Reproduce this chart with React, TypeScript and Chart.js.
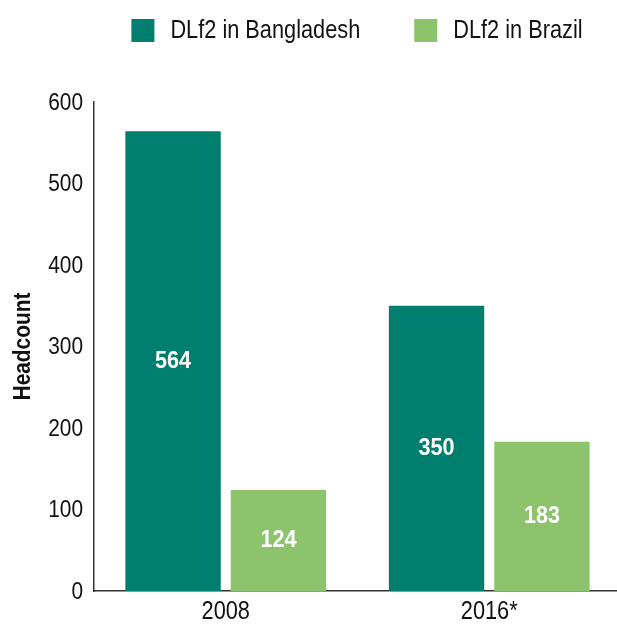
import React, { useEffect, useRef } from "react";
import { Chart, registerables } from "chart.js";

Chart.register(...registerables);

const categories = ["2008", "2016*"];
const bangladesh = [564, 350];
const brazil = [124, 183];
const seriesNames = ["DLf2 in Bangladesh", "DLf2 in Brazil"];
const seriesColors = ["#007F6E", "#8DC36C"];
const yTicks = [0, 100, 200, 300, 400, 500, 600];
const yTitle = "Headcount";

const FONT = "'Liberation Sans', Arial, sans-serif";
const SX = 0.87; // horizontal condensing to mimic a condensed face
const TEXT = "#111111";

function drawText(ctx: CanvasRenderingContext2D, text: string, x: number, y: number, font: string, align: "left" | "center" | "right", color: string, sx = SX) {
  ctx.save();
  ctx.font = font;
  ctx.textBaseline = "middle";
  ctx.textAlign = "left";
  ctx.fillStyle = color;
  const w = ctx.measureText(text).width * sx;
  const x0 = align === "center" ? x - w / 2 : align === "right" ? x - w : x;
  ctx.translate(x0, y);
  ctx.scale(sx, 1);
  ctx.fillText(text, 0, 0);
  ctx.restore();
}

function textWidth(ctx: CanvasRenderingContext2D, text: string, font: string, sx = SX) {
  ctx.save();
  ctx.font = font;
  const w = ctx.measureText(text).width * sx;
  ctx.restore();
  return w;
}

const textPlugin = {
  id: "condensedText",
  afterDraw(chart: any) {
    const ctx: CanvasRenderingContext2D = chart.ctx;
    const area = chart.chartArea;
    const yScale = chart.scales.y;
    const xScale = chart.scales.x;

    // y tick labels
    const yFont = `24px ${FONT}`;
    yTicks.forEach((v) => {
      drawText(ctx, String(v), 83, yScale.getPixelForValue(v) + 1, yFont, "right", TEXT);
    });

    // x tick labels
    const xFont = `25px ${FONT}`;
    categories.forEach((c, i) => {
      drawText(ctx, c, xScale.getPixelForValue(i), 612, xFont, "center", TEXT);
    });

    // y title
    ctx.save();
    const tFont = `bold 24px ${FONT}`;
    ctx.translate(23, (area.top + area.bottom) / 2);
    ctx.rotate(-Math.PI / 2);
    drawText(ctx, yTitle, 0, 0, tFont, "center", TEXT);
    ctx.restore();

    // bar value labels
    const lFont = `bold 24px ${FONT}`;
    chart.data.datasets.forEach((ds: any, i: number) => {
      const meta = chart.getDatasetMeta(i);
      meta.data.forEach((bar: any, j: number) => {
        drawText(ctx, String(ds.data[j]), bar.x, (bar.y + bar.base) / 2, lFont, "center", "#ffffff", 0.9);
      });
    });

    // legend
    const legFont = `25px ${FONT}`;
    const box = 23;
    const gapText = 16;
    const gapItem = 54;
    const widths = seriesNames.map((n) => box + gapText + textWidth(ctx, n, legFont));
    const total = widths.reduce((a, b) => a + b, 0) + gapItem * (seriesNames.length - 1);
    let x = 357 - total / 2;
    const boxTop = 19;
    seriesNames.forEach((n, i) => {
      ctx.save();
      ctx.fillStyle = seriesColors[i];
      ctx.fillRect(x, boxTop, box, box);
      ctx.restore();
      drawText(ctx, n, x + box + gapText, boxTop + box / 2 + 1, legFont, "left", TEXT);
      x += widths[i] + gapItem;
    });
  },
};

export default function App() {
  const ref = useRef<HTMLCanvasElement>(null);
  useEffect(() => {
    document.body.style.margin = "0";
    const chart = new Chart(ref.current!, {
      type: "bar",
      data: {
        labels: categories,
        datasets: [
          { label: seriesNames[0], data: bangladesh, backgroundColor: seriesColors[0], barPercentage: 0.905, categoryPercentage: 0.8 },
          { label: seriesNames[1], data: brazil, backgroundColor: seriesColors[1], barPercentage: 0.905, categoryPercentage: 0.8 },
        ],
      },
      options: {
        animation: false,
        responsive: true,
        maintainAspectRatio: false,
        layout: { padding: { top: 102, right: 0, left: 0, bottom: 0 } },
        plugins: {
          tooltip: { enabled: false },
          legend: { display: false },
        },
        scales: {
          x: {
            grid: { display: false, drawTicks: false },
            border: { display: true, color: "#333", width: 1.5 },
            ticks: { display: false },
            afterFit: (axis: any) => {
              axis.height = 33;
            },
          },
          y: {
            min: 0,
            max: 600,
            afterBuildTicks: (axis: any) => {
              axis.ticks = yTicks.map((v) => ({ value: v }));
            },
            grid: { display: false, drawTicks: false },
            border: { display: true, color: "#333", width: 1.5 },
            ticks: { display: false },
            afterFit: (axis: any) => {
              axis.width = 94;
            },
          },
        },
      },
      plugins: [textPlugin],
    });
    return () => chart.destroy();
  }, []);
  return (
    <div style={{ width: 617, height: 624, overflow: "hidden", position: "relative" }}>
      <div style={{ width: 621, height: 624, position: "relative" }}>
        <canvas ref={ref} />
      </div>
    </div>
  );
}
